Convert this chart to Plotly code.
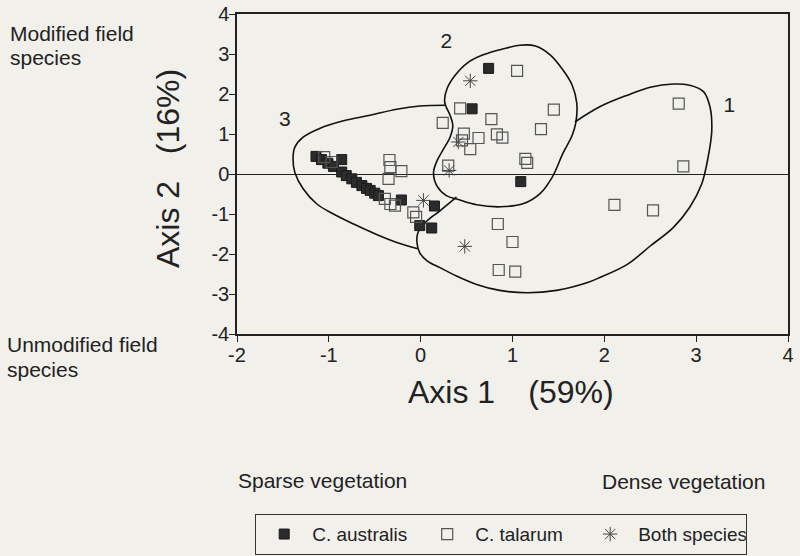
import plotly.graph_objects as go

# ---- data ----
australis_x = [0.74, 0.56, 1.09, -1.14, -1.08, -1.01, -0.95, -0.86, -0.86, -0.81, -0.75,
               -0.70, -0.64, -0.59, -0.55, -0.50, -0.46, -0.21, 0.15, -0.01, 0.12]
australis_y = [2.64, 1.63, -0.19, 0.44, 0.36, 0.27, 0.19, 0.36, 0.05, -0.04, -0.12,
               -0.21, -0.29, -0.36, -0.41, -0.48, -0.54, -0.65, -0.80, -1.29, -1.35]

talarum_x = [1.05, 0.43, 0.77, 0.24, 0.47, 0.63, 0.83, 0.89, 0.45, 0.54, 1.14, 1.16, 0.30,
             1.45, 1.31, 0.84, 1.00, 0.85, 1.03, 2.81, 2.86, 2.11, 2.53, -1.05, -0.97,
             -0.34, -0.33, -0.21, -0.35, -0.39, -0.33, -0.28, -0.08, -0.05]
talarum_y = [2.58, 1.64, 1.37, 1.28, 1.01, 0.90, 0.99, 0.91, 0.84, 0.62, 0.38, 0.28, 0.21,
             1.61, 1.12, -1.25, -1.70, -2.40, -2.44, 1.76, 0.19, -0.77, -0.91, 0.42, 0.30,
             0.35, 0.17, 0.07, -0.12, -0.62, -0.75, -0.79, -0.96, -1.07]

both_x = [0.54, 0.41, 0.31, 0.03, 0.48]
both_y = [2.33, 0.80, 0.09, -0.66, -1.81]

# group outlines (hand-drawn boundaries)
group2_x = [0.90, 1.08, 1.25, 1.41, 1.55, 1.65, 1.70, 1.69, 1.65, 1.55, 1.43, 1.30, 1.12,
            0.87, 0.61, 0.41, 0.28, 0.18, 0.14, 0.18, 0.24, 0.32, 0.35, 0.32, 0.27, 0.26,
            0.29, 0.38, 0.51, 0.68, 0.90]
group2_y = [3.13, 3.22, 3.20, 2.98, 2.60, 2.22, 1.77, 1.29, 0.97, 0.52, -0.09, -0.49, -0.74,
            -0.82, -0.77, -0.64, -0.54, -0.31, 0.04, 0.34, 0.59, 0.92, 1.22, 1.47, 1.72, 1.85,
            2.15, 2.48, 2.78, 2.98, 3.13]

group3_x = [0.27, -0.01, -0.26, -0.55, -0.84, -1.10, -1.28, -1.37, -1.39, -1.37, -1.28,
            -1.13, -0.95, -0.73, -0.48, -0.26, -0.03]
group3_y = [1.72, 1.70, 1.62, 1.47, 1.33, 1.14, 0.92, 0.67, 0.38, 0.04, -0.37,
            -0.75, -1.00, -1.25, -1.51, -1.71, -1.87]

group1_x = [0.39, 0.21, 0.07, -0.03, -0.04, -0.01, 0.07, 0.21, 0.39, 0.61, 0.86, 1.16, 1.48,
            1.81, 1.95, 2.25, 2.50, 2.75, 2.93, 3.06, 3.13, 3.17, 3.15, 3.08, 2.93, 2.75,
            2.50, 2.25, 1.95, 1.68]
group1_y = [-0.58, -0.92, -1.17, -1.47, -1.72, -1.97, -2.17, -2.34, -2.55, -2.76, -2.91,
            -2.97, -2.91, -2.72, -2.59, -2.26, -1.80, -1.34, -0.83, -0.25, 0.42, 1.09, 1.68,
            2.06, 2.22, 2.25, 2.17, 1.97, 1.68, 1.30]

group_labels = ["1", "2", "3"]
group_label_x = [3.36, 0.28, -1.48]
group_label_y = [1.67, 3.27, 1.33]

x_ticks = [-2, -1, 0, 1, 2, 3, 4]
y_ticks = [-4, -3, -2, -1, 0, 1, 2, 3, 4]
x_tick_text = ["-2", "-1", "0", "1", "2", "3", "4"]
y_tick_text = ["-4", "-3", "-2", "-1", "0", "1", "2", "3", "4"]

FONT = "Liberation Sans, Arial, Helvetica, sans-serif"
INK = "#222222"
BG = "#f1f0eb"

fig = go.Figure()

for gx, gy in [(group1_x, group1_y), (group2_x, group2_y), (group3_x, group3_y)]:
    fig.add_trace(go.Scatter(x=gx, y=gy, mode="lines",
                             line=dict(color="#111111", width=1.6, shape="spline", smoothing=1),
                             showlegend=False, hoverinfo="skip"))

fig.add_trace(go.Scatter(x=australis_x, y=australis_y, mode="markers", name="C. australis",
                         marker=dict(symbol="square", size=10, color="#2b2b2b",
                                     line=dict(color="#1a1a1a", width=1))))
fig.add_trace(go.Scatter(x=talarum_x, y=talarum_y, mode="markers", name="C. talarum",
                         marker=dict(symbol="square-open", size=11, color="#555555",
                                     line=dict(width=1.2))))
fig.add_trace(go.Scatter(x=both_x, y=both_y, mode="markers", name="Both species",
                         marker=dict(symbol="asterisk-open", size=12, color="#444444",
                                     line=dict(color="#444444", width=1))))

fig.add_trace(go.Scatter(x=group_label_x, y=group_label_y, mode="text", text=group_labels,
                         textfont=dict(size=21, color=INK, family=FONT),
                         showlegend=False, hoverinfo="skip"))

L, R, T, B = 237, 12, 14, 222
W, H = 800, 556
PW, PH = W - L - R, H - T - B


def px(xp):
    return (xp - L) / PW


def py(yp):
    return (H - B - yp) / PH


axis_common = dict(showgrid=False, ticks="outside", ticklen=6, tickwidth=1.2, tickcolor=INK,
                   showline=True, linecolor=INK, linewidth=1.5, mirror=True,
                   ticklabelstandoff=-4,
                   tickfont=dict(size=20, color=INK, family=FONT))

fig.update_xaxes(range=[-2, 4], tickvals=x_ticks, ticktext=x_tick_text, zeroline=False,
                 **axis_common)
fig.update_yaxes(range=[-4, 4], tickvals=y_ticks, ticktext=y_tick_text, zeroline=True,
                 zerolinecolor=INK, zerolinewidth=1.2, **axis_common)

ann = []


def text(t, x, y, size, xanchor="left", angle=0):
    ann.append(dict(text=t, x=px(x), y=py(y), xref="paper", yref="paper", showarrow=False,
                    xanchor=xanchor, yanchor="middle", textangle=angle,
                    font=dict(size=size, color=INK, family=FONT)))


text("Modified field", 8, 33.4, 21)
text("species", 8, 57.7, 21)
text("Unmodified field", 5, 344.4, 21)
text("species", 5, 369.4, 21)
text("Axis 1\u00a0\u00a0\u00a0\u2009(59%)", 511, 392, 32, xanchor="center")
text("Axis 2\u00a0\u00a0\u00a0(16%)", 168, 169, 32, xanchor="center", angle=-90)
text("Sparse vegetation", 236, 480.7, 21)
text("Dense vegetation", 600, 481, 21)

fig.update_layout(
    width=W, height=H,
    margin=dict(l=L, r=R, t=T, b=B, autoexpand=False),
    paper_bgcolor=BG, plot_bgcolor=BG,
    font=dict(family=FONT, color=INK),
    annotations=ann,
    legend=dict(orientation="h", x=px(255), y=py(514), xanchor="left", yanchor="top",
                bordercolor="#333333", borderwidth=1.2, bgcolor="rgba(0,0,0,0)",
                font=dict(size=19, color=INK, family=FONT),
                itemwidth=46, entrywidth=102, traceorder="normal"),
)

fig.write_html("out.html", config={"displayModeBar": False},
               post_script="document.body.style.margin='0';"
                           "document.body.style.background='" + BG + "';")
